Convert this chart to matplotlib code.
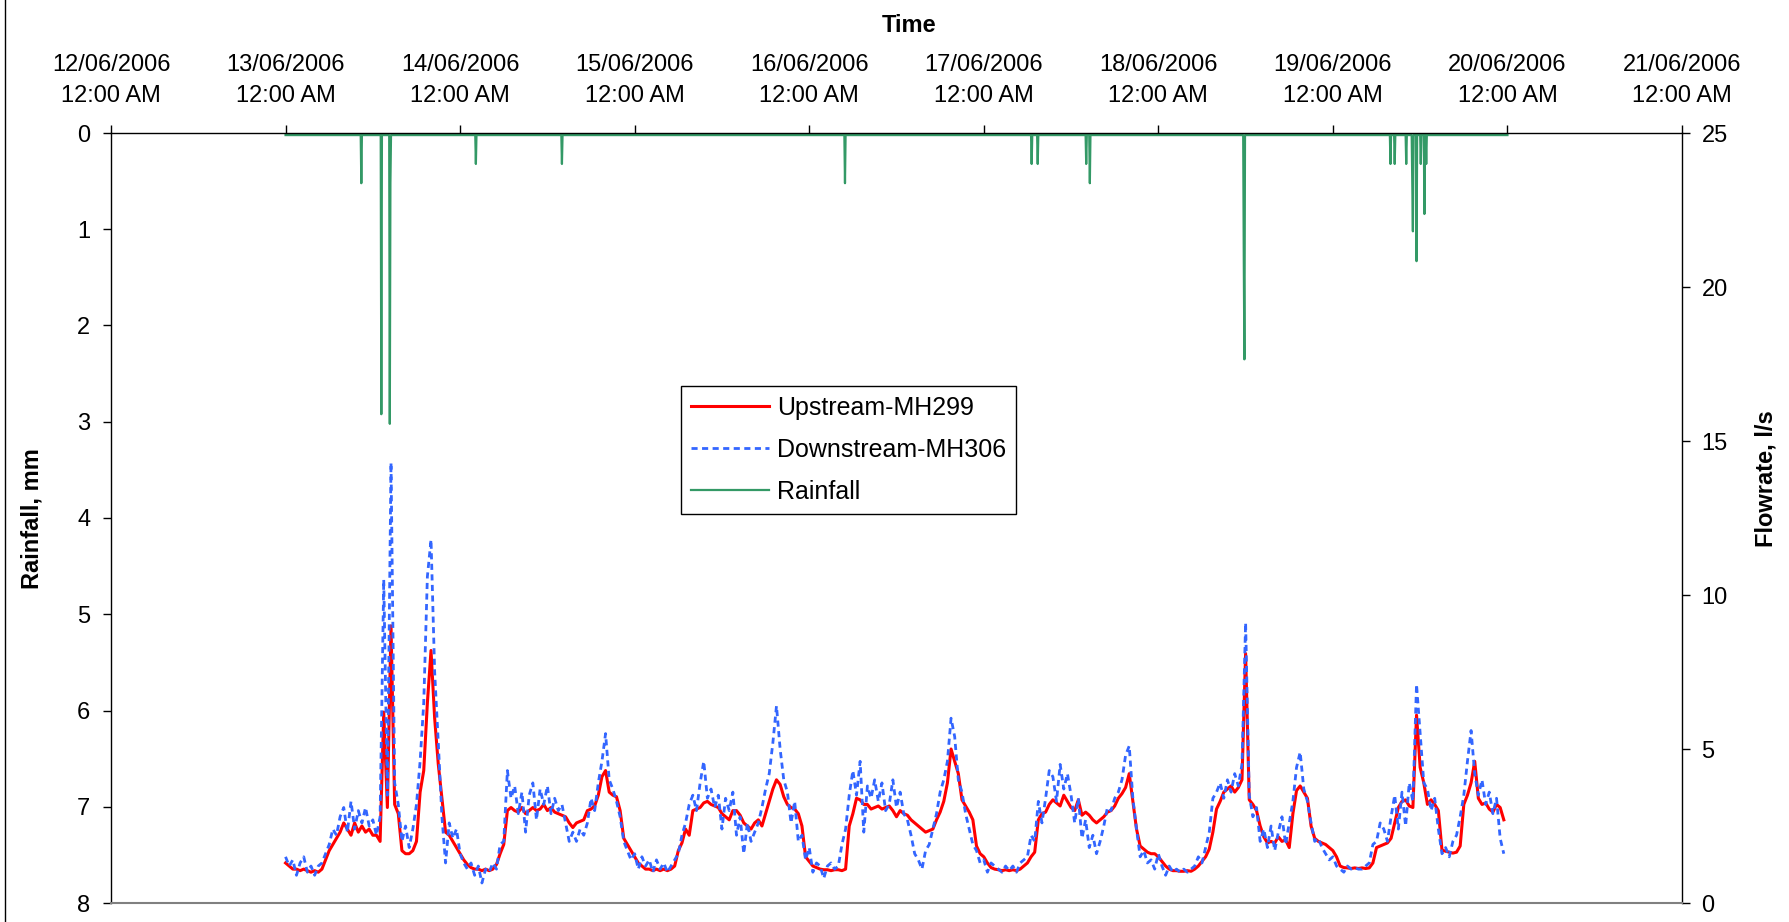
import numpy as np
import matplotlib
matplotlib.use('Agg')
import matplotlib.pyplot as plt
import matplotlib.dates as mdates
from matplotlib.lines import Line2D
from matplotlib.transforms import ScaledTranslation

plt.rcParams['font.family'] = ['Liberation Sans', 'DejaVu Sans']

# days with flow records, half-hourly values from 00:00 to 23:30
days = ['2006-06-13', '2006-06-14', '2006-06-15', '2006-06-16',
        '2006-06-17', '2006-06-18', '2006-06-19']

# Upstream-MH299 (l/s)
up_13 = [1.3, 1.2, 1.1, 1.1, 1.05, 1.1, 1.05, 1.0, 1.05, 1.0, 1.1, 1.4,
         1.7, 1.9, 2.1, 2.3, 2.6, 2.4, 2.2, 2.6, 2.3, 2.5, 2.3, 2.4,
         2.2, 2.2, 2.0, 6.2, 3.1, 9.0, 3.2, 2.9, 1.7, 1.6, 1.6, 1.7,
         2.0, 3.6, 4.3, 6.5, 8.2, 6.0, 4.5, 3.4, 2.3, 2.2, 2.0, 1.8]
up_14 = [1.6, 1.4, 1.25, 1.15, 1.1, 1.1, 1.05, 1.1, 1.05, 1.1, 1.25, 1.6,
         1.9, 3.0, 3.1, 3.0, 2.95, 3.1, 2.9, 3.0, 3.1, 3.0, 3.05, 3.2,
         3.0, 3.1, 2.95, 2.9, 2.85, 2.8, 2.6, 2.45, 2.6, 2.65, 2.7, 3.0,
         3.05, 3.15, 3.5, 4.1, 4.3, 3.6, 3.5, 3.45, 3.0, 2.1, 1.9, 1.7]
up_15 = [1.5, 1.3, 1.2, 1.1, 1.1, 1.05, 1.1, 1.05, 1.1, 1.05, 1.1, 1.2,
         1.7, 1.95, 2.4, 2.2, 3.0, 3.05, 3.1, 3.25, 3.3, 3.2, 3.15, 3.1,
         2.9, 2.8, 2.7, 3.0, 3.0, 2.85, 2.6, 2.5, 2.4, 2.6, 2.7, 2.5,
         2.9, 3.3, 3.7, 4.0, 3.85, 3.45, 3.2, 3.1, 3.05, 2.9, 2.5, 1.5]
up_16 = [1.35, 1.2, 1.15, 1.1, 1.08, 1.08, 1.05, 1.08, 1.08, 1.05, 1.1, 2.5,
         2.9, 3.4, 3.35, 3.2, 3.2, 3.05, 3.1, 3.15, 3.05, 3.1, 3.15, 3.0,
         2.8, 3.0, 2.9, 2.85, 2.7, 2.6, 2.5, 2.4, 2.3, 2.35, 2.4, 2.7,
         2.95, 3.3, 3.9, 5.0, 4.6, 4.2, 3.35, 3.15, 2.95, 2.7, 1.85, 1.6]
up_17 = [1.5, 1.3, 1.15, 1.1, 1.08, 1.05, 1.08, 1.05, 1.08, 1.05, 1.1, 1.2,
         1.3, 1.5, 1.65, 2.7, 2.9, 2.95, 3.2, 3.35, 3.25, 3.15, 3.5, 3.3,
         3.1, 3.0, 3.35, 2.85, 2.95, 2.85, 2.7, 2.6, 2.7, 2.8, 2.95, 3.0,
         3.15, 3.4, 3.55, 3.75, 4.2, 3.3, 2.4, 1.85, 1.75, 1.65, 1.6, 1.6]
up_18 = [1.5, 1.35, 1.2, 1.1, 1.05, 1.05, 1.03, 1.03, 1.05, 1.03, 1.1, 1.2,
         1.35, 1.5, 1.75, 2.3, 3.05, 3.3, 3.6, 3.7, 3.8, 3.6, 3.75, 4.0,
         8.1, 3.35, 3.2, 3.0, 2.5, 2.15, 1.95, 2.0, 1.95, 2.15, 2.0, 2.05,
         1.8, 2.9, 3.65, 3.8, 3.6, 3.4, 2.5, 2.1, 2.0, 1.95, 1.9, 1.8]
up_19 = [1.7, 1.5, 1.2, 1.15, 1.14, 1.12, 1.14, 1.12, 1.14, 1.12, 1.14, 1.3,
         1.8, 1.85, 1.9, 1.95, 2.1, 2.6, 3.1, 3.3, 3.35, 3.15, 3.1, 6.1,
         4.4, 3.9, 3.2, 3.35, 3.2, 3.0, 1.72, 1.68, 1.65, 1.62, 1.65, 1.85,
         3.2, 3.5, 3.9, 4.6, 3.4, 3.2, 3.25, 3.05, 2.95, 3.2, 3.1, 2.7]

# Downstream-MH306 (l/s)
down_13 = [1.5, 1.2, 1.4, 0.9, 1.3, 1.5, 1.0, 1.2, 0.9, 1.2, 1.3, 1.6,
           1.9, 2.4, 2.2, 2.8, 3.1, 2.3, 3.3, 2.4, 3.0, 2.6, 3.1, 2.5,
           2.7, 2.2, 2.8, 10.5, 3.5, 14.3, 3.9, 3.2, 2.0, 2.5, 1.8, 2.4,
           3.2, 4.6, 6.5, 10.6, 11.8, 7.5, 5.2, 2.8, 1.3, 2.6, 2.1, 2.4]
down_14 = [1.6, 1.3, 1.1, 1.3, 0.9, 1.2, 0.65, 1.1, 1.0, 1.3, 1.1, 1.9,
           2.0, 4.3, 3.4, 3.8, 2.9, 3.6, 2.3, 3.5, 3.9, 2.7, 3.7, 3.2,
           3.8, 2.9, 3.4, 3.0, 3.2, 2.6, 2.0, 2.3, 2.0, 2.4, 2.2, 2.6,
           3.4, 3.0, 3.9, 4.6, 5.5, 4.0, 3.7, 3.3, 2.8, 2.0, 1.7, 1.4]
down_15 = [1.6, 1.1, 1.5, 1.2, 1.4, 1.0, 1.4, 1.1, 1.3, 1.0, 1.2, 1.4,
           1.6, 2.2, 2.6, 3.2, 3.5, 3.0, 3.9, 4.6, 3.4, 3.7, 3.1, 3.5,
           2.4, 3.4, 3.0, 3.6, 2.2, 2.8, 1.6, 2.6, 2.0, 2.3, 2.6, 3.1,
           3.7, 4.2, 5.2, 6.4, 5.0, 4.0, 3.6, 2.6, 3.3, 2.0, 2.2, 1.4]
down_16 = [1.8, 1.0, 1.3, 1.2, 0.8, 1.2, 1.3, 1.1, 1.2, 1.9, 2.4, 3.5,
           4.3, 3.5, 4.6, 2.3, 3.8, 3.4, 4.0, 3.3, 3.9, 3.0, 3.2, 4.0,
           3.1, 3.6, 2.9, 2.7, 2.2, 1.6, 1.4, 1.1, 1.7, 1.9, 2.4, 2.9,
           3.6, 4.0, 4.6, 6.0, 5.4, 4.0, 3.6, 2.9, 2.4, 1.9, 1.7, 1.3]
down_17 = [1.4, 1.0, 1.3, 1.2, 1.1, 1.0, 1.2, 1.05, 1.2, 1.0, 1.3, 1.4,
           1.5, 2.2, 2.0, 3.3, 2.6, 3.4, 4.3, 4.1, 3.3, 4.5, 3.7, 4.2,
           3.5, 2.6, 3.4, 2.1, 2.7, 1.8, 2.2, 1.6, 2.0, 2.5, 3.1, 3.0,
           3.4, 3.6, 4.0, 4.8, 5.1, 3.4, 2.4, 1.5, 1.7, 1.3, 1.4, 1.1]
down_18 = [1.6, 1.2, 0.9, 1.2, 1.0, 1.1, 1.0, 1.1, 1.0, 1.1, 1.2, 1.5,
           1.3, 1.8, 2.3, 3.4, 3.6, 3.9, 3.4, 4.0, 3.6, 4.2, 3.8, 4.5,
           9.1, 3.5, 2.8, 3.1, 2.0, 2.4, 1.8, 2.5, 1.7, 2.3, 2.8, 1.9,
           2.6, 3.3, 4.4, 4.9, 3.7, 3.3, 2.6, 2.0, 2.1, 1.8, 1.6, 1.4]
down_19 = [1.5, 1.2, 1.1, 1.0, 1.2, 1.1, 1.15, 1.1, 1.1, 1.2, 1.3, 1.9,
           2.0, 2.6, 2.4, 2.0, 2.8, 3.5, 2.4, 3.6, 2.5, 3.9, 3.3, 7.1,
           5.5, 3.9, 3.7, 3.0, 3.4, 2.4, 1.6, 1.8, 1.5, 2.0, 2.2, 2.8,
           3.5, 4.6, 5.6, 4.2, 3.5, 4.0, 3.2, 3.6, 2.9, 3.4, 2.1, 1.6]

# rainfall: hours after 13/06/2006 00:00 and depth (mm), 5-minute record
rain_hours = [10.4, 13.2, 14.35, 14.45, 26.2, 38.0, 76.9,
              102.55, 103.4, 110.05, 110.55, 131.75, 131.83,
              151.9, 152.5, 154.1, 154.9, 155.0, 155.5, 156.07, 156.6, 156.85]
rain_mm = [0.5, 2.9, 3.0, 0.5, 0.3, 0.3, 0.5,
           0.3, 0.3, 0.3, 0.5, 1.3, 2.33,
           0.3, 0.3, 0.3, 0.5, 1.0, 1.31, 0.3, 0.82, 0.3]

# build the series
step = np.timedelta64(30, 'm')
flow_time = np.concatenate([np.datetime64(d + 'T00:00') + np.arange(48) * step for d in days])
upstream = np.concatenate([up_13, up_14, up_15, up_16, up_17, up_18, up_19])
downstream = np.concatenate([down_13, down_14, down_15, down_16, down_17, down_18, down_19])

rain_time = np.datetime64('2006-06-13T00:00') + np.arange(7 * 24 * 12 + 1) * np.timedelta64(5, 'm')
rain = np.zeros(len(rain_time))
for h, mm in zip(rain_hours, rain_mm):
    rain[int(round(h * 12))] = mm

W, H = 1789, 922
fig = plt.figure(figsize=(W / 100, H / 100), dpi=100)
ax = fig.add_axes([111 / W, 19 / H, 1571 / W, 770 / H])
ax2 = ax.twinx()

# rainfall sits just under the top axis line, like the original
shift = ScaledTranslation(0, -1.5 / 72, fig.dpi_scale_trans)
l_rain, = ax.plot(rain_time, rain, color='#339966', lw=1.6,
                  transform=ax.transData + shift, label='Rainfall')
l_up, = ax2.plot(flow_time, upstream, color='#FF0000', lw=2.2, label='Upstream-MH299')
l_down, = ax2.plot(flow_time, downstream, color='#3366FF', lw=2.0,
                   ls=(0, (2.2, 1.6)), label='Downstream-MH306')

ax.set_xlim(np.datetime64('2006-06-12T00:00'), np.datetime64('2006-06-21T00:00'))
ax.set_ylim(8, 0)
ax2.set_ylim(0, 25)

ax.xaxis.tick_top()
ax.xaxis.set_major_locator(mdates.DayLocator())
ax.xaxis.set_major_formatter(mdates.DateFormatter('%d/%m/%Y\n%I:%M %p'))
ax.set_yticks(range(9))
ax2.set_yticks(range(0, 26, 5))

ax.tick_params(axis='x', direction='out', length=6, width=1, labelsize=17, pad=13)
ax.tick_params(axis='y', direction='out', length=6, width=1, labelsize=17, pad=9)
ax2.tick_params(axis='y', direction='out', length=6, width=1, labelsize=17, pad=8)
plt.setp(ax.get_xticklabels(), linespacing=1.5)

for s in ax.spines.values():
    s.set_visible(False)
for s in ['top', 'left', 'right']:
    ax2.spines[s].set_color('black')
    ax2.spines[s].set_linewidth(1)
ax2.spines['bottom'].set_color('#808080')
ax2.spines['bottom'].set_linewidth(1.5)

fig.text(909 / W, 1 - 25 / H, 'Time', ha='center', va='center', fontsize=17, fontweight='bold')
fig.text(32 / W, 1 - 519 / H, 'Rainfall, mm', ha='center', va='center', rotation=90,
         fontsize=17, fontweight='bold')
fig.text(1766 / W, 1 - 479 / H, 'Flowrate, l/s', ha='center', va='center', rotation=90,
         fontsize=17, fontweight='bold')

leg = ax2.legend(handles=[l_up, l_down, l_rain], loc='upper left',
                 bbox_to_anchor=(681 / W, 1 - 386 / H), bbox_transform=fig.transFigure,
                 fontsize=18, fancybox=False, framealpha=1, edgecolor='black',
                 borderaxespad=0, handlelength=3.1, labelspacing=0.72,
                 borderpad=0.4, handletextpad=0.35)
leg.get_frame().set_linewidth(1)

# chart area border on the left edge
fig.add_artist(Line2D([4.5 / W, 4.5 / W], [0, 1], transform=fig.transFigure, color='black', lw=1))

fig.savefig('out.png', dpi=100)
